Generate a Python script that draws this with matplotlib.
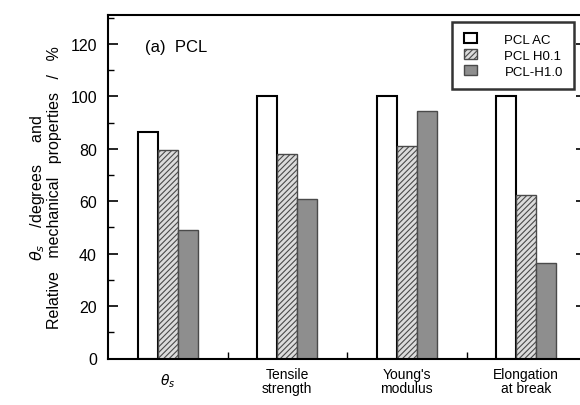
import numpy as np
import matplotlib
matplotlib.use('Agg')
import matplotlib.pyplot as plt
from matplotlib.ticker import MultipleLocator, FixedLocator

plt.rcParams['font.family'] = ['Liberation Sans', 'DejaVu Sans']
plt.rcParams['mathtext.fontset'] = 'dejavusans'
plt.rcParams['hatch.linewidth'] = 0.8

categories = [r'$\theta_s$', 'Tensile\nstrength', "Young's\nmodulus", 'Elongation\nat break']
series_names = ['PCL AC', 'PCL H0.1', 'PCL-H1.0']
pcl_ac = [86.5, 100, 100, 100]
pcl_h01 = [79.5, 78, 81, 62.5]
pcl_h10 = [49, 61, 94.5, 36.5]

fig = plt.figure(figsize=(5.8, 4.06), dpi=100)
ax = fig.add_axes([108 / 580, 46.5 / 406, 478 / 580, 343.5 / 406])

x = np.arange(len(categories))
w = 0.166

ax.bar(x - w, pcl_ac, w, facecolor='white', edgecolor='black', linewidth=1.5, label=series_names[0])
ax.bar(x, pcl_h01, w, facecolor='#dcdcdc', edgecolor='#4a4a4a', hatch='//////', linewidth=1.0,
       label=series_names[1])
ax.bar(x + w, pcl_h10, w, facecolor='#8e8e8e', edgecolor='#4a4a4a', linewidth=1.0, label=series_names[2])

ax.set_xlim(-0.5, 3.5)
ax.set_ylim(0, 131)

ax.set_xticks(x)
ax.set_xticklabels(categories, fontsize=10, linespacing=1.0)
ax.tick_params(axis='x', which='major', length=0, pad=16)
for lbl in ax.get_xticklabels():
    lbl.set_va('center')
ax.xaxis.set_minor_locator(FixedLocator([0.5, 1.5, 2.5]))
ax.tick_params(axis='x', which='minor', direction='in', length=5, width=1)

ax.yaxis.set_major_locator(MultipleLocator(20))
ax.yaxis.set_minor_locator(MultipleLocator(10))
ax.tick_params(axis='y', which='major', direction='in', length=7, width=1.2,
               labelsize=11.5, pad=8, right=True)
ax.tick_params(axis='y', which='minor', direction='in', length=4, width=1, right=True)

for s in ax.spines.values():
    s.set_linewidth(1.5)

ax.set_ylabel('$\\theta_s$    /degrees     and\nRelative   mechanical   properties   /   %',
              fontsize=11.5, labelpad=6, linespacing=1.0)

ax.text(0.077, 0.907, '(a)  PCL', transform=ax.transAxes, fontsize=12, va='center')

leg = ax.legend(loc='upper right', bbox_to_anchor=(0.975, 0.98), borderaxespad=0,
                fontsize=9.5, frameon=True, fancybox=False, labelspacing=0.25,
                handlelength=1.0, handleheight=0.8, handletextpad=2.1, borderpad=0.85)
leg.get_frame().set_edgecolor('black')
leg.get_frame().set_linewidth(1.8)

plt.savefig('out.png', dpi=100)
